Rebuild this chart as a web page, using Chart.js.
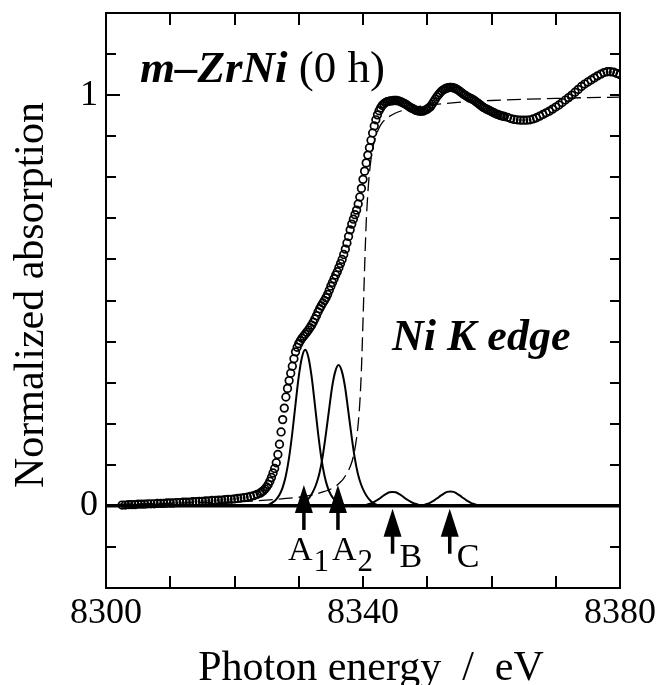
<!DOCTYPE html>
<html>
<head>
<meta charset="utf-8">
<script src="https://cdn.jsdelivr.net/npm/chart.js@4.4.0/dist/chart.umd.min.js"></script>
<style>
html,body{margin:0;padding:0;background:#fff}
#wrap{width:658px;height:685px}
</style>
</head>
<body>
<div id="wrap"><canvas id="chart" width="658" height="685"></canvas></div>
<script>
// Ni K-edge XANES of m-ZrNi (0 h)
const energyPre = [8302.5, 8303, 8303.5, 8304, 8304.5, 8305, 8305.5, 8306, 8306.5, 8307,
  8307.5, 8308, 8308.5, 8309, 8309.5, 8310, 8310.5, 8311, 8311.5, 8312,
  8312.5, 8313, 8313.5, 8314, 8314.5, 8315, 8315.5, 8316, 8316.5, 8317,
  8317.5, 8318, 8318.5, 8319, 8319.5, 8320, 8320.5, 8321, 8321.5, 8322,
  8322.5, 8323, 8323.5, 8324];
const absPre = [0.002, 0.002, 0.003, 0.003, 0.003, 0.004, 0.004, 0.004, 0.005, 0.005,
  0.005, 0.006, 0.006, 0.006, 0.007, 0.007, 0.007, 0.008, 0.008, 0.009,
  0.009, 0.009, 0.010, 0.010, 0.011, 0.011, 0.012, 0.012, 0.013, 0.013,
  0.014, 0.014, 0.015, 0.016, 0.016, 0.017, 0.018, 0.019, 0.020, 0.021,
  0.023, 0.025, 0.028, 0.031];

const energyEdge = [8324.25, 8324.5, 8324.75, 8325, 8325.25, 8325.5, 8325.75, 8326, 8326.25, 8326.5,
  8326.75, 8327, 8327.25, 8327.5, 8327.75, 8328, 8328.25, 8328.5, 8328.75, 8329,
  8329.25, 8329.5, 8329.75, 8330, 8330.25, 8330.5, 8330.75, 8331, 8331.25, 8331.5,
  8331.75, 8332, 8332.25, 8332.5, 8332.75, 8333, 8333.25, 8333.5, 8333.75, 8334,
  8334.25, 8334.5, 8334.75, 8335, 8335.25, 8335.5, 8335.75, 8336, 8336.25, 8336.5,
  8336.75, 8337, 8337.25, 8337.5, 8337.75, 8338, 8338.25, 8338.5, 8338.75, 8339,
  8339.25, 8339.5, 8339.75, 8340, 8340.25, 8340.5, 8340.75, 8341, 8341.25, 8341.5,
  8341.75, 8342, 8342.25, 8342.5, 8342.75, 8343, 8343.25, 8343.5, 8343.75, 8344];
const absEdge = [0.034, 0.037, 0.041, 0.046, 0.052, 0.060, 0.069, 0.080, 0.091, 0.105,
  0.125, 0.150, 0.180, 0.210, 0.238, 0.265, 0.286, 0.305, 0.323, 0.340,
  0.358, 0.375, 0.386, 0.395, 0.402, 0.408, 0.413, 0.418, 0.423, 0.428,
  0.434, 0.440, 0.447, 0.455, 0.463, 0.472, 0.480, 0.487, 0.494, 0.500,
  0.507, 0.515, 0.525, 0.535, 0.544, 0.553, 0.562, 0.570, 0.580, 0.590,
  0.600, 0.612, 0.625, 0.640, 0.656, 0.672, 0.686, 0.698, 0.709, 0.720,
  0.735, 0.752, 0.773, 0.795, 0.815, 0.835, 0.854, 0.872, 0.890, 0.908,
  0.925, 0.940, 0.952, 0.962, 0.969, 0.975, 0.979, 0.982, 0.984, 0.985];

const energyPost = [8344.25, 8344.5, 8344.75, 8345, 8345.25, 8345.5, 8345.75, 8346, 8346.25, 8346.5,
  8346.75, 8347, 8347.25, 8347.5, 8347.75, 8348, 8348.25, 8348.5, 8348.75, 8349,
  8349.25, 8349.5, 8349.75, 8350, 8350.25, 8350.5, 8350.75, 8351, 8351.25, 8351.5,
  8351.75, 8352, 8352.25, 8352.5, 8352.75, 8353, 8353.25, 8353.5, 8353.75, 8354,
  8354.25, 8354.5, 8354.75, 8355, 8355.25, 8355.5, 8355.75, 8356, 8356.25, 8356.5,
  8356.75, 8357, 8357.25, 8357.5, 8357.75, 8358, 8358.25, 8358.5, 8358.75, 8359,
  8359.25, 8359.5, 8359.75, 8360, 8360.25, 8360.5, 8360.75, 8361, 8361.25, 8361.5,
  8361.75, 8362];
const absPost = [0.986, 0.986, 0.987, 0.987, 0.987, 0.986, 0.985, 0.983, 0.981, 0.979,
  0.977, 0.974, 0.971, 0.969, 0.967, 0.965, 0.963, 0.962, 0.961, 0.961,
  0.961, 0.962, 0.964, 0.966, 0.969, 0.972, 0.978, 0.984, 0.990, 0.996,
  1.001, 1.006, 1.010, 1.013, 1.015, 1.017, 1.018, 1.019, 1.019, 1.018,
  1.017, 1.015, 1.013, 1.010, 1.007, 1.004, 1.001, 0.999, 0.996, 0.994,
  0.992, 0.990, 0.988, 0.985, 0.982, 0.979, 0.976, 0.973, 0.970, 0.968,
  0.966, 0.964, 0.962, 0.960, 0.958, 0.956, 0.954, 0.953, 0.951, 0.950,
  0.949, 0.948];

const energyTail = [8362.5, 8363, 8363.5, 8364, 8364.5, 8365, 8365.5, 8366, 8366.5, 8367,
  8367.5, 8368, 8368.5, 8369, 8369.5, 8370, 8370.5, 8371, 8371.5, 8372,
  8372.5, 8373, 8373.5, 8374, 8374.5, 8375, 8375.5, 8376, 8376.5, 8377,
  8377.5, 8378, 8378.5, 8379, 8379.5, 8380];
const absTail = [0.946, 0.943, 0.941, 0.940, 0.939, 0.939, 0.939, 0.940, 0.942, 0.945,
  0.949, 0.953, 0.957, 0.961, 0.966, 0.971, 0.976, 0.982, 0.988, 0.994,
  1.000, 1.007, 1.014, 1.021, 1.027, 1.032, 1.037, 1.042, 1.047, 1.051,
  1.055, 1.057, 1.057, 1.056, 1.053, 1.050];

// arctangent step (dashed)
const energyStep = [8302, 8310, 8315, 8320, 8323, 8326, 8328, 8330, 8332, 8333,
  8334, 8335, 8336, 8336.5, 8337, 8337.5, 8338, 8338.5, 8339, 8339.25,
  8339.5, 8339.75, 8340, 8340.25, 8340.5, 8340.75, 8341, 8341.5, 8342, 8342.5,
  8343, 8344, 8345, 8346, 8348, 8350, 8353, 8356, 8360, 8365,
  8370, 8375, 8380];
const valueStep = [0.004, 0.006, 0.008, 0.010, 0.012, 0.015, 0.018, 0.021, 0.026, 0.030,
  0.035, 0.041, 0.051, 0.058, 0.067, 0.080, 0.095, 0.120, 0.165, 0.200,
  0.250, 0.330, 0.450, 0.580, 0.690, 0.760, 0.810, 0.870, 0.900, 0.920,
  0.933, 0.947, 0.956, 0.962, 0.970, 0.975, 0.980, 0.984, 0.987, 0.990,
  0.992, 0.994, 0.995];

// fitted peaks A1, A2, B, C
const energyA1 = [8324.5, 8325, 8325.5, 8326, 8326.5, 8327, 8327.5, 8328, 8328.5, 8329,
  8329.5, 8330, 8330.5, 8331, 8331.5, 8332, 8332.5, 8333, 8333.5, 8334,
  8334.5, 8335, 8335.5, 8336, 8336.5, 8337, 8337.5];
const valueA1 = [0, 0.001, 0.004, 0.009, 0.016, 0.027, 0.045, 0.074, 0.118, 0.178,
  0.248, 0.315, 0.362, 0.380, 0.362, 0.315, 0.248, 0.178, 0.118, 0.074,
  0.045, 0.027, 0.016, 0.009, 0.004, 0.001, 0];

const energyA2 = [8329.7, 8330.2, 8330.7, 8331.2, 8331.7, 8332.2, 8332.7, 8333.2, 8333.7, 8334.2,
  8334.7, 8335.2, 8335.7, 8336.2, 8336.7, 8337.2, 8337.7, 8338.2, 8338.7, 8339.2,
  8339.7, 8340.2, 8340.7, 8341.2, 8341.7, 8342.2, 8342.7];
const valueA2 = [0, 0.002, 0.006, 0.012, 0.021, 0.034, 0.052, 0.078, 0.118, 0.172,
  0.232, 0.290, 0.328, 0.343, 0.328, 0.290, 0.232, 0.172, 0.118, 0.078,
  0.052, 0.034, 0.021, 0.012, 0.006, 0.002, 0];

const energyB = [8339.1, 8339.6, 8340.1, 8340.6, 8341.1, 8341.6, 8342.1, 8342.6, 8343.1, 8343.6,
  8344.1, 8344.6, 8345.1, 8345.6, 8346.1, 8346.6, 8347.1, 8347.6, 8348.1, 8348.6,
  8349.1, 8349.6, 8350.1];
const valueB = [0, 0.001, 0.0015, 0.003, 0.005, 0.0085, 0.013, 0.018, 0.024, 0.029,
  0.033, 0.034, 0.033, 0.029, 0.024, 0.018, 0.013, 0.0085, 0.005, 0.003,
  0.0015, 0.001, 0];

const energyC = [8348.1, 8348.6, 8349.1, 8349.6, 8350.1, 8350.6, 8351.1, 8351.6, 8352.1, 8352.6,
  8353.1, 8353.6, 8354.1, 8354.6, 8355.1, 8355.6, 8356.1, 8356.6, 8357.1, 8357.6,
  8358.1, 8358.6, 8359.1];
const valueC = [0, 0.001, 0.0015, 0.003, 0.005, 0.009, 0.0135, 0.019, 0.025, 0.030,
  0.034, 0.035, 0.034, 0.030, 0.025, 0.019, 0.0135, 0.009, 0.005, 0.003,
  0.0015, 0.001, 0];

const energyBase = [8300, 8380];
const valueBase = [0, 0];

// arrows marking the peaks
const arrowEnergy = [8330.8, 8336.1, 8344.6, 8353.5];
const arrowTip = [0.051, 0.051, -0.007, -0.007];
const arrowLetter = ['A', 'A', 'B', 'C'];
const arrowSub = ['1', '2', '', ''];

const xTickLabels = [8300, 8340, 8380];
const yTickLabels = [0, 1];

const serif = "'Liberation Serif', 'Times New Roman', serif";
const pts = (xs, ys) => xs.map((e, i) => ({x: e, y: ys[i]}));
const curve = (data, extra) => Object.assign({type: 'line', data, showLine: true, pointRadius: 0,
  borderColor: '#000', borderWidth: 2, fill: false, cubicInterpolationMode: 'monotone'}, extra);

const decor = {
  id: 'decor',
  afterDatasetsDraw(chart) {
    const {ctx, chartArea: a, scales: {x, y}} = chart;
    ctx.save();
    ctx.fillStyle = '#000'; ctx.strokeStyle = '#000';
    // frame + inward ticks
    ctx.lineWidth = 2;
    ctx.strokeRect(a.left, a.top, a.right - a.left, a.bottom - a.top);
    ctx.beginPath();
    x.ticks.forEach(t => {
      const px = Math.round(x.getPixelForValue(t.value));
      ctx.moveTo(px, a.bottom); ctx.lineTo(px, a.bottom - 12);
      ctx.moveTo(px, a.top); ctx.lineTo(px, a.top + 12);
    });
    y.ticks.forEach(t => {
      const py = Math.round(y.getPixelForValue(t.value));
      ctx.moveTo(a.left, py); ctx.lineTo(a.left + (t.label ? 14 : 10), py);
      ctx.moveTo(a.right, py); ctx.lineTo(a.right - 10, py);
    });
    ctx.stroke();

    // arrows + labels
    const zero = y.getPixelForValue(0);
    const labelDx = [-16, -6, 7, 7], labelDy = [54, 54, 61, 61];
    arrowEnergy.forEach((e, i) => {
      const px = x.getPixelForValue(e), tip = y.getPixelForValue(arrowTip[i]);
      ctx.beginPath();
      ctx.moveTo(px, tip); ctx.lineTo(px - 9, tip + 28); ctx.lineTo(px + 9, tip + 28);
      ctx.closePath(); ctx.fill();
      ctx.fillRect(px - 1.75, tip + 26, 3.5, 19);
      ctx.textAlign = 'left'; ctx.textBaseline = 'alphabetic';
      ctx.font = `34px ${serif}`;
      const lx = px + labelDx[i], ly = zero + labelDy[i];
      ctx.fillText(arrowLetter[i], lx, ly);
      if (arrowSub[i]) {
        const w = ctx.measureText(arrowLetter[i]).width;
        ctx.font = `31px ${serif}`;
        ctx.fillText(arrowSub[i], lx + w + 1, ly + 11);
      }
    });

    // in-plot texts
    ctx.textAlign = 'left'; ctx.textBaseline = 'alphabetic';
    ctx.font = `italic bold 45px ${serif}`;
    ctx.fillText('m\u2013ZrNi', 140, 82);
    const tw = ctx.measureText('m\u2013ZrNi').width;
    ctx.font = `45px ${serif}`;
    ctx.fillText(' (0 h)', 140 + tw, 82);
    ctx.font = `italic bold 44px ${serif}`;
    ctx.fillText('Ni K edge', 392, 350);

    // axis titles
    ctx.font = `42px ${serif}`;
    ctx.textAlign = 'center';
    ctx.fillText('Photon energy \u00a0/\u00a0 eV', 371, 680);
    ctx.translate(32, 295); ctx.rotate(-Math.PI / 2);
    ctx.textBaseline = 'middle';
    ctx.fillText('Normalized absorption', 0, 0);
    ctx.restore();
  }
};

new Chart(document.getElementById('chart'), {
  type: 'scatter',
  data: {
    datasets: [
      curve(pts(energyBase, valueBase), {borderWidth: 3.5, cubicInterpolationMode: 'default', tension: 0}),
      curve(pts(energyA1, valueA1)),
      curve(pts(energyA2, valueA2)),
      curve(pts(energyB, valueB)),
      curve(pts(energyC, valueC)),
      curve(pts(energyStep, valueStep), {borderWidth: 1.3, borderDash: [14, 6]}),
      {
        data: pts(energyPre.concat(energyEdge, energyPost, energyTail), absPre.concat(absEdge, absPost, absTail)),
        showLine: false, pointStyle: 'circle', pointRadius: 3.8, pointBorderWidth: 1.7,
        pointBorderColor: '#000', pointBackgroundColor: 'rgba(255,255,255,0)'
      }
    ]
  },
  options: {
    responsive: false, animation: false, devicePixelRatio: 1,
    layout: {padding: {top: 13, right: 38, left: 0, bottom: 0}},
    plugins: {legend: {display: false}, tooltip: {enabled: false}},
    scales: {
      x: {
        type: 'linear', min: 8300, max: 8380,
        grid: {display: false}, border: {display: false},
        ticks: {stepSize: 10, autoSkip: false, maxRotation: 0, padding: -4, color: '#000',
          font: {family: serif, size: 36},
          callback: v => xTickLabels.includes(v) ? String(v) : ''},
        afterFit: s => { s.height = 97; s.paddingLeft = 0; s.paddingRight = 0; }
      },
      y: {
        min: -0.2, max: 1.2,
        grid: {display: false}, border: {display: false},
        ticks: {stepSize: 0.1, autoSkip: false, padding: 0, color: '#000',
          font: {family: serif, size: 36},
          callback: v => { const m = yTickLabels.find(t => Math.abs(t - v) < 1e-6); return m === undefined ? '' : String(m); }},
        afterFit: s => { s.width = 106; s.paddingTop = 0; s.paddingBottom = 0; }
      }
    }
  },
  plugins: [decor]
});
</script>
</body>
</html>
